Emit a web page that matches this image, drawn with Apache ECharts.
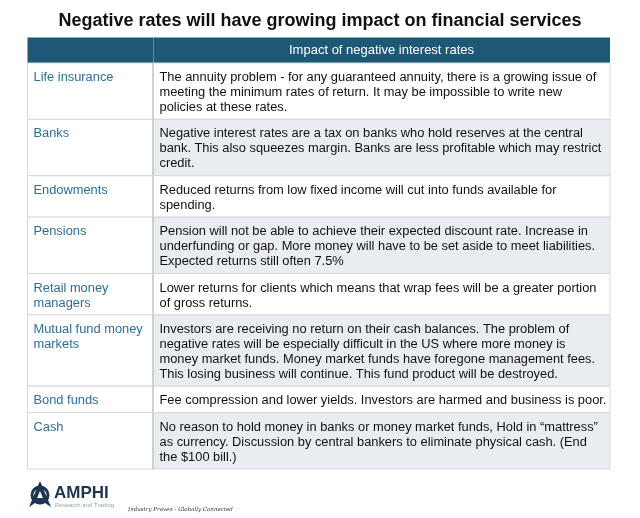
<!DOCTYPE html>
<html lang="en">
<head>
    <meta charset="UTF-8">
    <title>Negative rates</title>
    <style>
        html, body { margin: 0; padding: 0; background: #fff; }
        #main { width: 640px; height: 518px; }
    </style>
</head>
<body>
<div id="main"></div>
<script src="https://cdn.jsdelivr.net/npm/echarts@6/dist/echarts.min.js"></script>
<script>
    // table content
    var title = 'Negative rates will have growing impact on financial services';
    var headerText = 'Impact of negative interest rates';
    var categories = [
        'Life insurance',
        'Banks',
        'Endowments',
        'Pensions',
        'Retail money\nmanagers',
        'Mutual fund money\nmarkets',
        'Bond funds',
        'Cash'
    ];
    var impacts = [
        'The annuity problem - for any guaranteed annuity, there is a growing issue of\nmeeting the minimum rates of return. It may be impossible to write new\npolicies at these rates.',
        'Negative interest rates are a tax on banks who hold reserves at the central\nbank. This also squeezes margin. Banks are less profitable which may restrict\ncredit.',
        'Reduced returns from low fixed income will cut into funds available for\nspending.',
        'Pension will not be able to achieve their expected discount rate. Increase in\nunderfunding or gap. More money will have to be set aside to meet liabilities.\nExpected returns still often 7.5%',
        'Lower returns for clients which means that wrap fees will be a greater portion\nof gross returns.',
        'Investors are receiving no return on their cash balances. The problem of\nnegative rates will be especially difficult in the US where more money is\nmoney market funds. Money market funds have foregone management fees.\nThis losing business will continue. This fund product will be destroyed.',
        'Fee compression and lower yields. Investors are harmed and business is poor.',
        'No reason to hold money in banks or money market funds, Hold in \u201cmattress\u201d\nas currency. Discussion by central bankers to eliminate physical cash. (End\nthe $100 bill.)'
    ];

    var FONT = '"Liberation Sans", Arial, Helvetica, sans-serif';
    var PAD = 0.77;      // extra row height, in line units
    var SPLIT = 21.55;   // first column width, % of table
    var LINE_PX = 15;
    var BODY_SIZE = 12.85;

    // rows: [index, start, end] in line units
    var rows = [];
    var acc = 0;
    for (var i = 0; i < impacts.length; i++) {
        var n = impacts[i].split('\n').length;
        rows.push([i, acc, acc + n + PAD]);
        acc += n + PAD;
    }

    var myChart = echarts.init(document.getElementById('main'));

    var option = {
        animation: false,
        title: {
            text: title,
            left: 'center',
            top: 7,
            textStyle: { fontFamily: FONT, fontSize: 18, fontWeight: 'bold', color: '#111' }
        },
        grid: { left: 27.5, right: 30, top: 63, bottom: 49 },
        xAxis: { type: 'value', min: 0, max: 100, show: false },
        yAxis: { type: 'value', min: 0, max: acc, inverse: true, show: false },
        graphic: [
            {
                type: 'rect',
                shape: { x: 27.5, y: 37.5, width: 582.5, height: 25.5 },
                style: { fill: '#1d5876' }
            },
            {
                type: 'rect',
                shape: { x: 153, y: 37.5, width: 1, height: 25.5 },
                style: { fill: '#5f8aa2' }
            },
            {
                type: 'text',
                x: 381.5, y: 50.5,
                style: {
                    text: headerText, fill: '#fff', fontFamily: FONT, fontSize: 13,
                    align: 'center', verticalAlign: 'middle'
                }
            },
            // logo
            {
                type: 'group', x: 40, y: 495,
                children: [
                    { type: 'circle', shape: { cx: 0, cy: 0, r: 8 },
                      style: { fill: 'none', stroke: '#1c3550', lineWidth: 3 } },
                    { type: 'polygon', shape: { points: [[0, -14], [-11, 12], [-5, 8], [0, -4], [5, 8], [11, 12]] },
                      style: { fill: '#1c3550' } },
                    { type: 'polygon', shape: { points: [[-6, 3], [6, 3], [0, 9]] },
                      style: { fill: '#1c3550' } }
                ]
            },
            {
                type: 'text', x: 54, y: 493,
                style: { text: 'AMPHI', fill: '#1c3550', fontFamily: FONT, fontSize: 17,
                         fontWeight: 'bold', verticalAlign: 'middle' }
            },
            {
                type: 'text', x: 55, y: 505,
                style: { text: 'Research and Trading', fill: '#9aa3ab', fontFamily: FONT, fontSize: 6,
                         verticalAlign: 'middle' }
            },
            {
                type: 'text', x: 128, y: 510,
                style: { text: 'Industry Proven - Globally Connected', fill: '#333', fontFamily: '"DejaVu Serif", serif',
                         fontSize: 5.5, fontStyle: 'italic', verticalAlign: 'middle' }
            }
        ],
        series: [{
            type: 'custom',
            coordinateSystem: 'cartesian2d',
            data: rows,
            renderItem: function (params, api) {
                var idx = api.value(0);
                var tl = api.coord([0, api.value(1)]);
                var mid = api.coord([SPLIT, api.value(1)]);
                var br = api.coord([100, api.value(2)]);
                var h = br[1] - tl[1];
                var shaded = idx % 2 === 1;
                return {
                    type: 'group',
                    children: [
                        { type: 'rect', shape: { x: tl[0], y: tl[1], width: mid[0] - tl[0], height: h },
                          style: { fill: '#fff', stroke: '#d5d9dd', lineWidth: 1 } },
                        { type: 'rect', shape: { x: mid[0], y: tl[1], width: br[0] - mid[0], height: h },
                          style: { fill: shaded ? '#e9edf1' : '#fff', stroke: '#d5d9dd', lineWidth: 1 } },
                        { type: 'rect', shape: { x: mid[0] - 0.5, y: tl[1], width: 1, height: h },
                          style: { fill: '#b9bec3' } },
                        { type: 'text', style: {
                            text: categories[idx], x: tl[0] + 6, y: tl[1] + 7,
                            fill: '#2b6f9c', fontFamily: FONT, fontSize: BODY_SIZE, lineHeight: LINE_PX,
                            verticalAlign: 'top' } },
                        { type: 'text', style: {
                            text: impacts[idx], x: mid[0] + 6.5, y: tl[1] + 7,
                            fill: '#111', fontFamily: FONT, fontSize: BODY_SIZE, lineHeight: LINE_PX,
                            verticalAlign: 'top' } }
                    ]
                };
            }
        }]
    };

    myChart.setOption(option);
</script>
</body>
</html>
